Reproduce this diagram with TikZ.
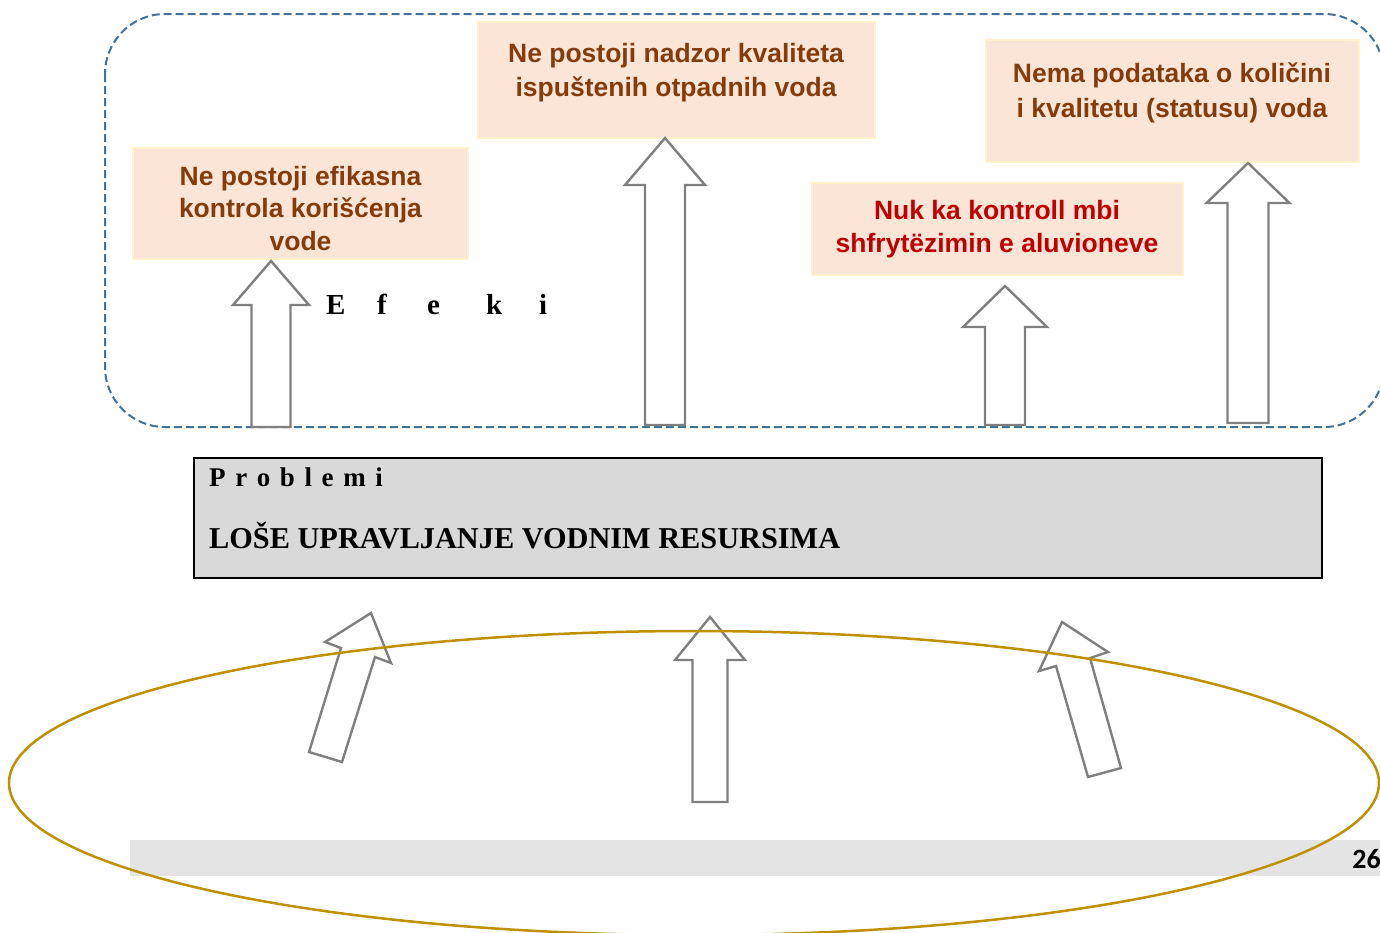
\documentclass[tikz,border=0pt]{standalone}
\usepackage{fontspec}
\setmainfont{Liberation Serif}
\newfontfamily\arialf{Liberation Sans}
\newfontfamily\calibrif{Carlito}
\definecolor{dashblue}{HTML}{41719C}
\definecolor{boxfill}{HTML}{FBE5D6}
\definecolor{boxline}{HTML}{FFF2CC}
\definecolor{brownt}{HTML}{843C0C}
\definecolor{redt}{HTML}{C00000}
\definecolor{arrgray}{HTML}{7F7F7F}
\definecolor{gold}{HTML}{BF9000}
\definecolor{probfill}{HTML}{D9D9D9}
\definecolor{bandfill}{HTML}{E4E4E4}
\newcommand\blockup[7]{% name, cx, tip, base, headhalf, shafthalf, bottom
  \draw[blockarrow] (#2,#3) coordinate (#1) -- (#2+#5,#4) -- (#2+#6,#4) -- (#2+#6,#7) -- (#2-#6,#7) -- (#2-#6,#4) -- (#2-#5,#4) -- cycle;}
\tikzset{
  effbox/.style={draw=boxline, line width=2.2pt, fill=boxfill},
  efftext/.style={font=\arialf\bfseries\fontsize{26.5}{34}\selectfont, align=center, inner sep=0pt},
  blockarrow/.style={draw=arrgray, line width=2.4pt, fill=white, line join=miter},
  blockarrowopen/.style={draw=arrgray, line width=2.4pt, line join=miter},
}
\begin{document}
\begin{tikzpicture}[x=1pt,y=-1pt]
\useasboundingbox (0,0) rectangle (1380,932);
% dashed frame
\draw[dashblue, line width=2pt, dash pattern=on 8pt off 4pt, rounded corners=60pt] (105,14) rectangle (1384,427);
% effect boxes
\draw[effbox] (133,148) rectangle (468,259);
\node[efftext, text=brownt, font=\arialf\bfseries\fontsize{26.5}{32.5}\selectfont] (t1) at (300.5,208.5) {Ne postoji efikasna\\kontrola korišćenja\\vode};
\draw[effbox] (478,22) rectangle (875,138);
\node[efftext, text=brownt] (t2) at (676,72.5) {Ne postoji nadzor kvaliteta\\ispuštenih otpadnih voda};
\draw[effbox] (986,40) rectangle (1359,162);
\node[efftext, text=brownt, font=\arialf\bfseries\fontsize{26.5}{35}\selectfont] (t3) at (1172,93) {Nema podataka o količini\\i kvalitetu (statusu) voda};
\draw[effbox] (812,183) rectangle (1183,275);
\node[efftext, text=redt, font=\arialf\bfseries\fontsize{26.5}{33.5}\selectfont] (t4) at (997,229) {Nuk ka kontroll mbi\\shfrytëzimin e aluvioneve};
% Efeki label
\node[anchor=base west, inner sep=0pt, font=\bfseries\fontsize{29}{29}\selectfont] (efk) at (326,314)
  {\makebox[51pt][l]{E}\makebox[50pt][l]{f}\makebox[59pt][l]{e}\makebox[53pt][l]{k}i};
% upward arrows in frame
\blockup{a1}{271}{261}{305}{38}{19.5}{427}
\blockup{a2}{665}{138}{185}{40}{20}{425}
\blockup{a3}{1005}{286}{327}{42}{20}{425}
\blockup{a4}{1248}{163}{203}{41.5}{20.5}{423}
% problem box
\node[draw=black, line width=2.2pt, fill=probfill, minimum width=1128pt, minimum height=120pt, inner sep=0pt] (prob) at (758,518) {};
\node[anchor=base west, inner sep=0pt, font=\bfseries\fontsize{27}{27}\selectfont] (ptitle) at (209,486)
  {P\hspace{9.6pt}r\hspace{9.6pt}o\hspace{9.6pt}b\hspace{9.6pt}l\hspace{9.6pt}e\hspace{9.6pt}m\hspace{9.6pt}i};
\node[anchor=base west, inner sep=0pt, font=\bfseries\fontsize{30.3}{30.3}\selectfont] (ptext) at (209,548)
  {LOŠE UPRAVLJANJE VODNIM RESURSIMA};
% page band
\fill[bandfill] (130,840) rectangle (1380,876);
\node[anchor=base east, inner sep=0pt, font=\calibrif\bfseries\fontsize{28}{28}\selectfont] (pnum) at (1381,868) {26};
% bottom arrows
\draw[blockarrowopen] (371,613) -- (391,663) -- (375,657) -- (342,762) -- (309,752) -- (341,648) -- (325,642) -- cycle;
\draw[blockarrowopen] (710,617) -- (745,660) -- (727.5,660) -- (727.5,802) -- (692.5,802) -- (692.5,660) -- (675,660) -- cycle;
\draw[blockarrowopen] (1062,622) -- (1108,652) -- (1090,658) -- (1121,768) -- (1088,777) -- (1056,666) -- (1039,671) -- cycle;
% cause ellipse
\draw[gold, line width=2.5pt] (694,783) ellipse [x radius=685pt, y radius=152pt];
\end{tikzpicture}
\end{document}
